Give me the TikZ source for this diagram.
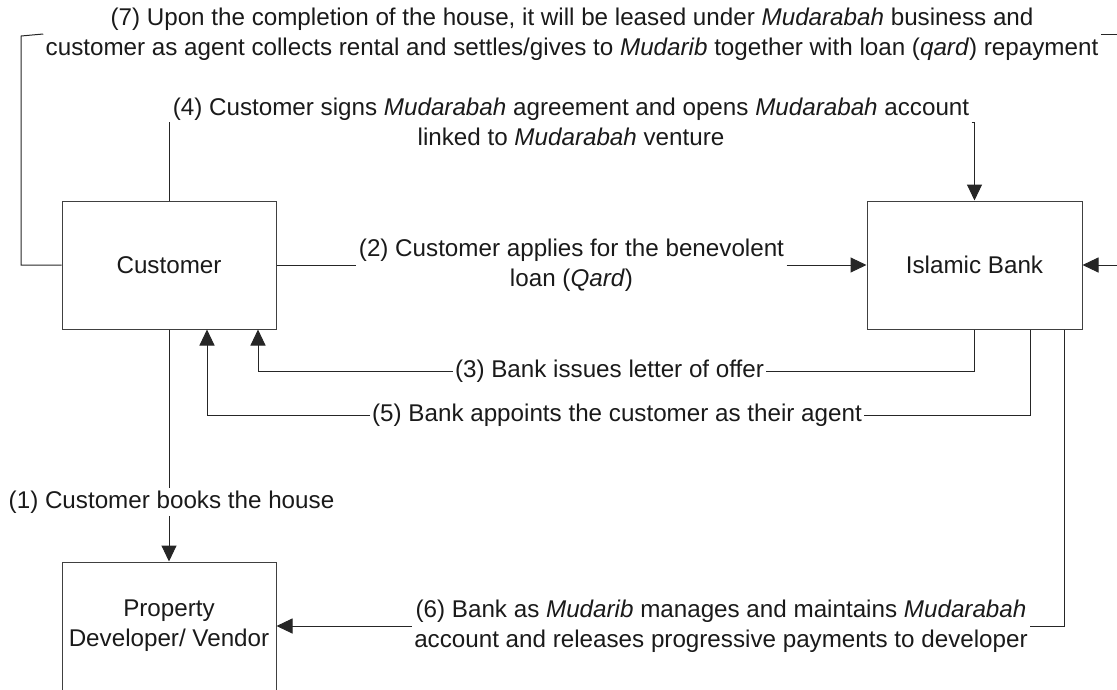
\documentclass[tikz,border=0pt]{standalone}
\usepackage{fontspec}
\setmainfont{Liberation Sans}
\usetikzlibrary{arrows.meta}
\definecolor{boxgray}{HTML}{404040}
\definecolor{txt}{HTML}{1A1A1A}
\tikzset{
	box/.style={draw=boxgray, line width=1pt, minimum width=214pt, minimum height=128pt, align=center, text=txt},
	lbl/.style={inner sep=2pt, align=center, text=txt},
	arr/.style={-{Triangle[length=16pt,width=15pt]}},
}

\begin{document}
\begin{tikzpicture}[x=1pt, y=-1pt, line width=1pt, draw=black!85, font=\fontsize{24.2}{30}\selectfont]
		\useasboundingbox (0,0) rectangle (1117,689);
		\clip (0,0) rectangle (1117,689);
		\node[box] (cust) at (169,265) {Customer};
		\node[box, minimum width=215pt] (bank) at (974.5,265) {Islamic Bank};
		\node[box] (prop) at (169,626) {Property\\Developer/ Vendor};
		\node[lbl] (t7) at (572,34) {(7) Upon the completion of the house, it will be leased under \textit{Mudarabah} business and\\customer as agent collects rental and settles/gives to \textit{Mudarib} together with loan (\textit{qard}) repayment};
		\node[lbl] (t4) at (571,122) {(4) Customer signs \textit{Mudarabah} agreement and opens \textit{Mudarabah} account\\linked to \textit{Mudarabah} venture};
		\node[lbl] (t2) at (571.5,265) {(2) Customer applies for the benevolent\\loan (\textit{Qard})};
		\node[lbl] (t3) at (609.5,371) {(3) Bank issues letter of offer};
		\node[lbl] (t5) at (617,415) {(5) Bank appoints the customer as their agent};
		\node[lbl] (t1) at (171.5,502) {(1) Customer books the house};
		\node[lbl] (t6) at (721,626) {(6) Bank as \textit{Mudarib} manages and maintains \textit{Mudarabah}\\account and releases progressive payments to developer};
		\coordinate (l7) at (21,36);
		\coordinate (r7) at (1118,265);
		% (7)
		\draw (cust.west) -| (l7) -- (t7.west);
		\draw[arr] (t7.east) -| (r7) -- (bank.east);
		% (4)
		\draw (cust.north) |- (t4.west);
		\draw[arr] (t4.east) -| (bank.north);
		% (2)
		\draw (cust.east) -- (t2.west);
		\draw[arr] (t2.east) -- (bank.west);
		% (3) and (5)
		\draw (bank.south) |- (t3.east);
		\draw[arr] (t3.west) -| ([xshift=89pt]cust.south);
		\draw ([xshift=56pt]bank.south) |- (t5.east);
		\draw[arr] (t5.west) -| ([xshift=38pt]cust.south);
		% (1)
		\draw (cust.south) -- (cust.south |- t1.north);
		\draw[arr] (cust.south |- t1.south) -- (prop.north);
		% (6)
		\draw ([xshift=90pt]bank.south) |- (t6.east);
		\draw[arr] (t6.west) -- (prop.east);
\end{tikzpicture}
\end{document}
